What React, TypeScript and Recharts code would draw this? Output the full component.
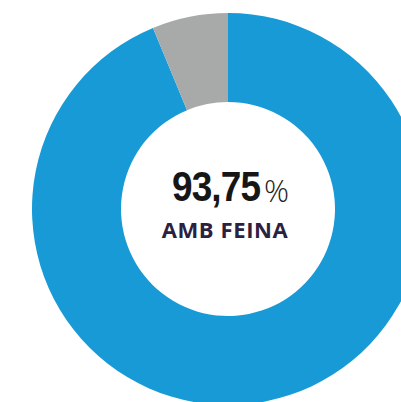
import React from "react";
import { Cell, Pie, PieChart } from "recharts";

const labels = ["Amb feina", "Sense feina"];
const values = [93.75, 6.25];
const colors = ["#189ad6", "#a8aaa9"];

const data = labels.map((name, i) => ({ name, value: values[i], color: colors[i] }));

export default function App() {
  return (
    <div style={{ position: "absolute", top: 0, left: 0, width: 401, height: 402, overflow: "hidden", background: "#fff" }}>
      <PieChart width={401} height={402} margin={{ top: 0, right: 0, bottom: 0, left: 0 }}>
        <Pie
          data={data}
          dataKey="value"
          nameKey="name"
          cx={228}
          cy={209}
          innerRadius={107}
          outerRadius={196}
          startAngle={90}
          endAngle={-270}
          stroke="none"
          isAnimationActive={false}
        >
          {data.map((d) => (
            <Cell key={d.name} fill={d.color} />
          ))}
        </Pie>
      </PieChart>
      {/* big number, squeezed to look like a condensed face */}
      <div
        style={{
          position: "absolute",
          right: 401 - 260,
          top: 166,
          textAlign: "right",
          lineHeight: 1,
          whiteSpace: "nowrap",
          fontFamily: "'Liberation Sans', Arial, sans-serif",
          fontWeight: 700,
          fontSize: 42,
          letterSpacing: -1,
          color: "#161616",
          transform: "scaleX(0.88)",
          transformOrigin: "right center",
        }}
      >
        {values[0].toFixed(2).replace(".", ",")}
      </div>
      <div
        style={{
          position: "absolute",
          left: 264,
          top: 175,
          lineHeight: 1,
          fontFamily: "'Open Sans', sans-serif",
          fontWeight: 300,
          fontSize: 31,
          color: "#222",
        }}
      >
        %
      </div>
      <div
        style={{
          position: "absolute",
          left: 125,
          width: 200,
          top: 218,
          textAlign: "center",
          fontFamily: "'Open Sans', sans-serif",
          fontWeight: 700,
          fontSize: 22,
          letterSpacing: 0.6,
          color: "#2b2140",
          lineHeight: 1,
          whiteSpace: "nowrap",
        }}
      >
        AMB FEINA
      </div>
    </div>
  );
}
